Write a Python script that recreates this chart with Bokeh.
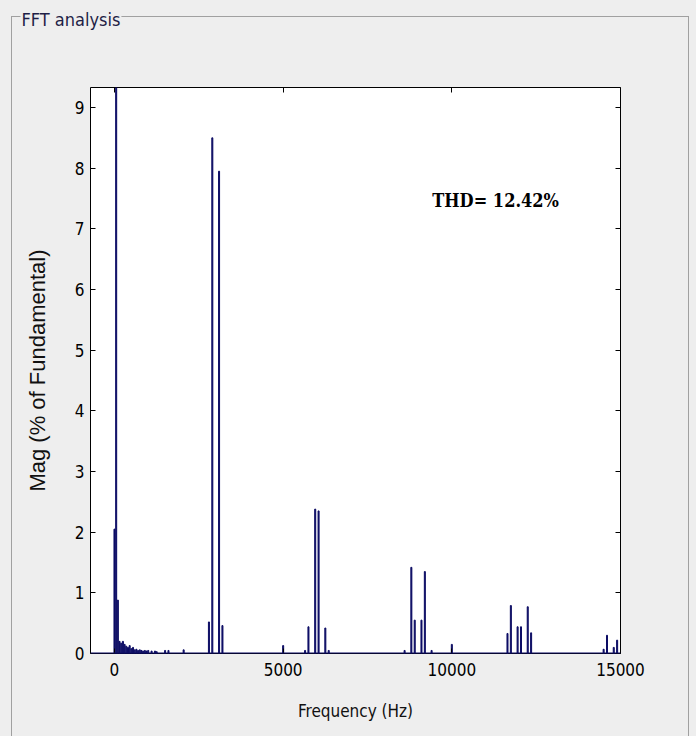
from bokeh.plotting import figure
from bokeh.models import (ColumnDataSource, Range1d, FixedTicker, LinearAxis,
                          Span, Label, InlineStyleSheet)
from bokeh.embed import file_html
from bokeh.resources import INLINE

# ---- data ----
freqs = [0, 50, 100, 150, 200, 250, 300, 350, 400, 450, 500, 550, 600, 650,
         700, 750, 800, 850, 900, 950, 1000, 1100, 1200, 1250, 1500, 1600,
         2050, 2800, 2900, 3100, 3200, 5000, 5650, 5750, 5950, 6050, 6250,
         6350, 8600, 8800, 8900, 9100, 9200, 9400, 10000, 11650, 11750,
         11950, 12050, 12250, 12350, 14500, 14600, 14800, 14900]
mags = [2.05, 100.0, 0.88, 0.20, 0.17, 0.20, 0.15, 0.12, 0.10, 0.13, 0.08,
        0.10, 0.06, 0.07, 0.05, 0.06, 0.05, 0.04, 0.05, 0.04, 0.05, 0.04,
        0.04, 0.03, 0.05, 0.05, 0.06, 0.52, 8.50, 7.95, 0.46, 0.13, 0.05,
        0.44, 2.38, 2.35, 0.42, 0.05, 0.05, 1.42, 0.55, 0.55, 1.35, 0.05,
        0.15, 0.33, 0.79, 0.44, 0.44, 0.77, 0.34, 0.07, 0.30, 0.10, 0.22]
x_ticks = [0, 5000, 10000, 15000]
y_ticks = [0, 1, 2, 3, 4, 5, 6, 7, 8, 9]
panel_title = "FFT analysis"
thd_text = "THD= 12.42%"
x_label = "Frequency (Hz)"
y_label = "Mag (% of Fundamental)"

BG = "#eeeeee"
EDGE = "#a0a0a0"
BAR = "#0c0c64"
NARROW = "'Liberation Sans Narrow', 'DejaVu Sans Condensed', 'Arial Narrow', sans-serif"

src = ColumnDataSource(dict(f=freqs, m=mags))

p = figure(width=696, height=736, output_backend="svg", toolbar_location=None,
           x_range=Range1d(-711, 15000), y_range=Range1d(0, 9.33),
           min_border_left=90, min_border_right=76, min_border_top=87,
           min_border_bottom=83)
p.border_fill_color = None
p.background_fill_color = "white"
p.outline_line_color = "black"
p.outline_line_width = 1
p.grid.visible = False

# group-box frame drawn as the host background (lines only)
g = f"linear-gradient({EDGE},{EDGE})"
p.stylesheets = [InlineStyleSheet(css=(
    ":host { background: "
    f"{g} 11px 16px / 678px 1px no-repeat, "
    f"{g} 11px 16px / 1px 730px no-repeat, "
    f"{g} 688px 16px / 1px 730px no-repeat, "
    f"{BG}; }}"))]

p.vbar(x="f", top="m", bottom=0, width=30, source=src,
       fill_color=BAR, line_color=BAR, line_width=1)
p.add_layout(Span(location=0, dimension="width", line_color=BAR, line_width=2))

xa = p.xaxis[0]
xa.ticker = FixedTicker(ticks=x_ticks)
ya = p.yaxis[0]
ya.ticker = FixedTicker(ticks=y_ticks)
for ax in (xa, ya):
    ax.major_tick_in = 5
    ax.major_tick_out = 0
    ax.minor_tick_line_color = None
    ax.axis_line_color = None
    ax.major_tick_line_color = "black"
    ax.major_label_text_font = NARROW
    ax.major_label_text_font_size = "17px"
    ax.major_label_text_color = "black"
    ax.axis_label_text_color = "#111111"
    ax.axis_label_text_font_style = "normal"
xa.major_label_standoff = 9
ya.major_label_standoff = 6
xa.axis_label = x_label
xa.axis_label_text_font = NARROW
xa.axis_label_text_font_size = "17px"
xa.axis_label_standoff = 22
ya.axis_label = y_label
ya.axis_label_text_font = "'Liberation Sans', Arial, sans-serif"
ya.axis_label_text_font_size = "22px"
ya.axis_label_standoff = 22

# mirrored ticks (box on), no labels
top_ax = LinearAxis(ticker=FixedTicker(ticks=x_ticks))
right_ax = LinearAxis(ticker=FixedTicker(ticks=y_ticks))
for ax in (top_ax, right_ax):
    ax.major_tick_in = 5
    ax.major_tick_out = 0
    ax.minor_tick_line_color = None
    ax.axis_line_color = None
    ax.major_label_text_color = None
    ax.major_label_standoff = 0
p.add_layout(top_ax, "above")
p.add_layout(right_ax, "right")

# invisible spacer between the axes box and the panel caption
spacer = LinearAxis(ticker=FixedTicker(ticks=x_ticks[:1]))
spacer.major_tick_in = 0
spacer.major_tick_out = 57
spacer.major_tick_line_color = None
spacer.minor_tick_line_color = None
spacer.axis_line_color = None
spacer.major_label_text_color = None
spacer.major_label_standoff = 0
p.add_layout(spacer, "above")

# panel caption as the figure title, sitting on the group-box line
p.title.text = panel_title
p.title.align = "left"
p.title.vertical_align = "bottom"
p.title.offset = -70
p.title.standoff = 0
p.title.text_font = NARROW
p.title.text_font_size = "18px"
p.title.text_font_style = "normal"
p.title.text_color = "#1e1e46"
p.title.background_fill_color = BG
p.title.padding = 1

# THD annotation
p.add_layout(Label(x=9420, y=7.47, text=thd_text, text_baseline="middle",
                   text_font="'DejaVu Serif Condensed', 'DejaVu Serif', serif",
                   text_font_style="bold", text_font_size="18px",
                   text_color="black"))

open("out.html", "w").write(file_html(p, INLINE))
